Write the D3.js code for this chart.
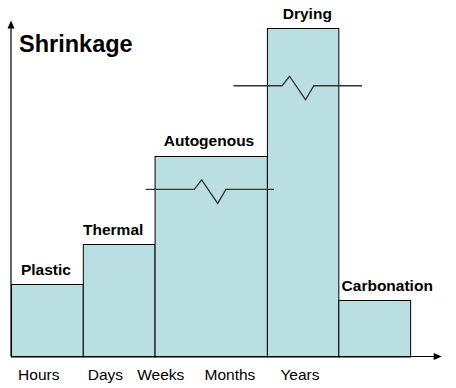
<!DOCTYPE html>
<html><head><meta charset="utf-8">
<script src="https://cdn.jsdelivr.net/npm/d3@7"></script>
<style>
html,body{margin:0;padding:0;background:#fff;}
svg{display:block;font-family:Arial,"Liberation Sans",sans-serif;}
</style></head>
<body>
<svg id="chart" width="456" height="388"></svg>
<script>
// ---- data ----
const categories = ["Plastic","Thermal","Autogenous","Drying","Carbonation"];
const barStart   = [0, 1, 2, 3.565, 4.56];      // time-axis units
const barEnd     = [1, 2, 3.565, 4.56, 5.56];
const shrinkage  = [22, 34.2, 61.1, 100, 17.1]; // relative magnitude
const timeLabels = ["Hours","Days","Weeks","Months","Years"];
const timePos    = [0.387, 1.316, 2.086, 3.05, 4.025];
const breakCats  = ["Autogenous","Drying"];
const breakLevel = [50.9, 82.5];
const breakStart = [1.876, 3.10];
const breakEnd   = [3.663, 4.889];
const title = "Shrinkage";

// ---- layout ----
const labelDx = [-1, -5.5, -1.7, 4.7, 13];
const svg = d3.select("#chart");
const x = d3.scaleLinear().domain([0, 6]).range([11, 441.7]);
const y = d3.scaleLinear().domain([0, 100]).range([356.5, 28.3]);

const bars = categories.map((c,i)=>({c, s:barStart[i], e:barEnd[i], v:shrinkage[i], dx:labelDx[i]}));

svg.selectAll("rect.bar").data(bars).join("rect")
  .attr("class","bar")
  .attr("x", d=>x(d.s)+0.5)
  .attr("width", d=>x(d.e)-x(d.s))
  .attr("y", d=>Math.round(y(d.v))+0.5)
  .attr("height", d=>y(0)-Math.round(y(d.v)))
  .attr("fill","#B9DFE2")
  .attr("stroke","#000")
  .attr("stroke-width",1);

svg.selectAll("text.cat").data(bars).join("text")
  .attr("class","cat")
  .attr("x", d=>(x(d.s)+x(d.e))/2 + d.dx)
  .attr("y", d=>y(d.v)-9.5)
  .attr("text-anchor","middle")
  .attr("font-size","15.5px")
  .attr("font-weight","bold")
  .attr("fill","#000")
  .text(d=>d.c);

// break lines
const breaks = breakCats.map((c,i)=>({c, lvl:breakLevel[i], s:breakStart[i], e:breakEnd[i]}));
svg.selectAll("path.brk").data(breaks).join("path")
  .attr("class","brk")
  .attr("fill","none")
  .attr("stroke","#333")
  .attr("stroke-width",1.3)
  .attr("d", d=>{
    const x0 = x(d.s), x1 = x(d.e), yy = y(d.lvl);
    return d3.line()([[x0,yy],[x0+48.6,yy],[x0+56,yy-9.5],[x0+72,yy+14],[x0+80.3,yy],[x1,yy]]);
  });

// axes
const ax = svg.append("g").attr("stroke","#000").attr("stroke-width",1.2);
ax.append("line").attr("x1",x(0)).attr("x2",x(6)-6).attr("y1",y(0)).attr("y2",y(0));
ax.append("line").attr("x1",x(0)).attr("x2",x(0)).attr("y1",y(0)).attr("y2",27);
svg.append("path").attr("fill","#000")
  .attr("d",`M${x(6)},${y(0)} L${x(6)-8},${y(0)-3.5} L${x(6)-8},${y(0)+3.5} Z`);
svg.append("path").attr("fill","#000")
  .attr("d",`M${x(0)},20.5 L${x(0)-3.5},28.5 L${x(0)+3.5},28.5 Z`);

svg.selectAll("text.tick").data(timeLabels).join("text")
  .attr("class","tick")
  .attr("x",(d,i)=>x(timePos[i]))
  .attr("y",379.5)
  .attr("text-anchor","middle")
  .attr("font-size","15.5px")
  .attr("fill","#000")
  .text(d=>d);

svg.append("text")
  .attr("x",19).attr("y",52)
  .attr("font-size","23.5px")
  .attr("font-weight","bold")
  .attr("fill","#000")
  .text(title);
</script>
</body></html>
